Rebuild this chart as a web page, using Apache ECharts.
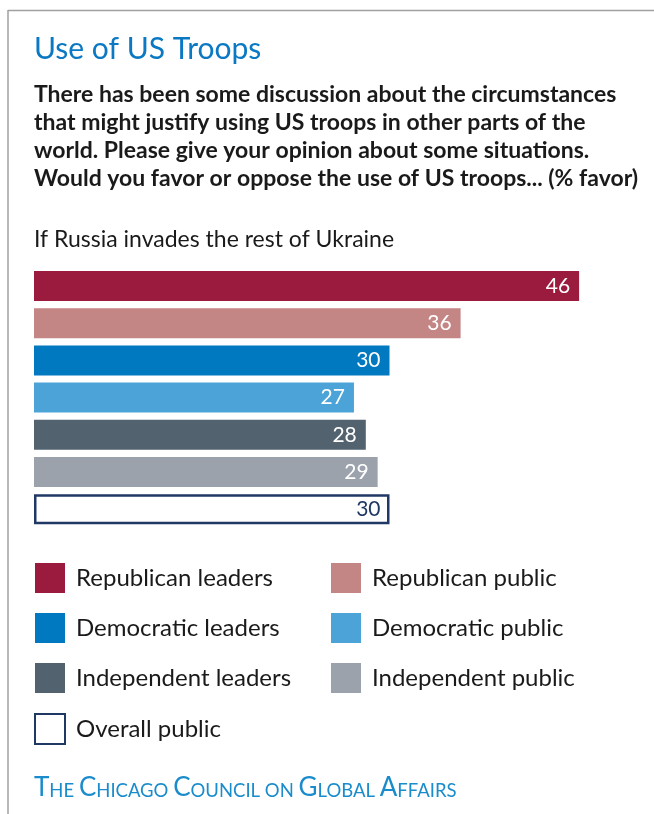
<!DOCTYPE html>
<html><head><meta charset="utf-8">
<script src="https://cdn.jsdelivr.net/npm/echarts@6/dist/echarts.min.js"></script>
<style>html,body{margin:0;padding:0;background:#fff}#c{width:654px;height:814px}</style>
</head><body><div id="c"></div>
<script>
const categories = ['Republican leaders','Republican public','Democratic leaders','Democratic public','Independent leaders','Independent public','Overall public'];
const values = [46, 36, 30, 27, 28, 29, 30];
const colors = ['#9b1b3e','#c48585','#0079c1','#4ba3d8','#52626f','#9ba2ac','#ffffff'];
const leftLegend = ['Republican leaders','Democratic leaders','Independent leaders','Overall public'];
const rightLegend = ['Republican public','Democratic public','Independent public'];
const subtitleLines = ['There has been some discussion about the circumstances','that might justify using US troops in other parts of the','world. Please give your opinion about some situations.','Would you favor or oppose the use of US troops... (% favor)'];
const footerWords = ['The','Chicago','Council','on','Global','Affairs'];

const FONT = 'Lato';
const chart = echarts.init(document.getElementById('c'));

const series = categories.map((name, i) => ({
  name: name,
  type: 'bar',
  stack: 'all',
  barWidth: 30,
  data: categories.map((c, j) => j === i ? values[i] : '-'),
  itemStyle: i === 6 ? {color: '#ffffff', borderColor: '#1f3864', borderWidth: 2.5} : {color: colors[i]},
  label: {show: true, position: 'insideRight', distance: 9, color: i === 6 ? '#1f3864' : '#ffffff', fontFamily: FONT, fontSize: 21},
  emphasis: {disabled: true},
  animation: false
}));

const FC = '#1a8ccc';
const rich = {a: {fontFamily: FONT, fontSize: 26, fill: FC, color: FC, verticalAlign: 'bottom', lineHeight: 28}, b: {fontFamily: FONT, fontSize: 18.5, fill: FC, color: FC, verticalAlign: 'bottom', lineHeight: 28}};
const footerText = footerWords.map(w => {
  if (w === 'on') return '{b|ON}';
  return '{a|' + w[0].toUpperCase() + '}{b|' + w.slice(1).toUpperCase() + '}';
}).join('{b| }');

const graphics = [
  {type: 'line', shape: {x1: 8, y1: 10.5, x2: 654, y2: 10.5}, style: {stroke: '#a0a0a0', lineWidth: 1.5}, silent: true},
  {type: 'line', shape: {x1: 8, y1: 10, x2: 8, y2: 814}, style: {stroke: '#a0a0a0', lineWidth: 1.5}, silent: true},
  {type: 'text', x: 34, y: 49, style: {text: 'Use of US Troops', font: 'normal 30px ' + FONT, fill: '#0a78c2', verticalAlign: 'middle'}},
  {type: 'text', x: 34, y: 240, style: {text: 'If Russia invades the rest of Ukraine', font: 'normal 23px ' + FONT, fill: '#1a1a1a', verticalAlign: 'middle'}},
  {type: 'text', x: 34, y: 801, style: {text: footerText, rich: rich, fill: FC, verticalAlign: 'bottom'}}
];
subtitleLines.forEach((t, k) => graphics.push({type: 'text', x: 34, y: 95 + k * 28, style: {text: t, font: 'bold 23px ' + FONT, fill: '#1a1a1a', verticalAlign: 'middle'}}));

const legendBase = {orient: 'vertical', itemWidth: 30, itemHeight: 30, itemGap: 20, icon: 'rect', selectedMode: false, textStyle: {fontFamily: FONT, fontSize: 24, color: '#1a1a1a', padding: [0, 0, 0, 6]}, top: 563, padding: 0};

chart.setOption({
  animation: false,
  grid: {left: 34, right: 27.5, top: 267.4, height: 260.4},
  xAxis: {type: 'value', min: 0, max: 50, show: false},
  yAxis: {type: 'category', data: categories, inverse: true, show: false},
  legend: [
    Object.assign({}, legendBase, {left: 34, data: leftLegend}),
    Object.assign({}, legendBase, {left: 331, data: rightLegend})
  ],
  graphic: graphics,
  series: series
});
</script></body></html>
